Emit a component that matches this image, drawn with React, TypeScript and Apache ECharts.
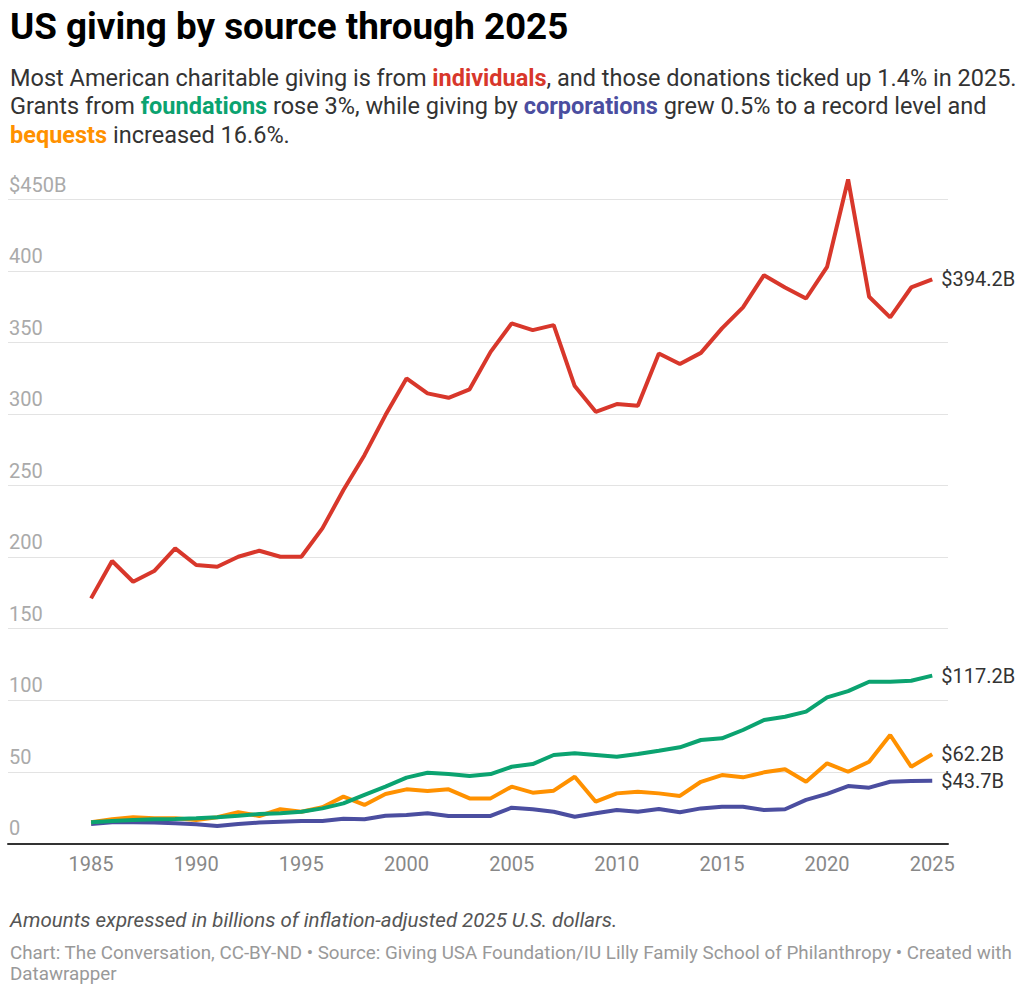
import React, { useEffect, useRef } from "react";
import * as echarts from "echarts";

const years: number[] = [];
for (let y = 1985; y <= 2025; y++) years.push(y);

const individuals = [
  171.2, 197.3, 182.8, 190.3, 206.1, 194.5, 193.3, 200.3, 204.5, 200.3,
  200.3, 220.1, 246.9, 271.3, 299.3, 324.9, 314.5, 311.4, 317.3, 343.5,
  363.4, 358.7, 362.2, 319.6, 301.6, 307.0, 305.8, 342.4, 335.0, 342.8,
  359.9, 374.6, 397.1, 388.5, 380.8, 402.9, 464.0, 382.0, 367.6, 388.5, 394.2,
];
const foundations = [
  14.7, 15.6, 16.3, 16.8, 16.9, 17.5, 18.2, 19.3, 20.5, 21.0,
  22.1, 24.4, 27.9, 33.8, 39.6, 45.9, 49.3, 48.4, 47.0, 48.4,
  53.5, 55.4, 61.7, 62.9, 61.7, 60.5, 62.4, 64.7, 67.1, 72.2,
  73.4, 79.2, 86.2, 88.5, 92.0, 102.0, 106.4, 112.9, 112.9, 113.6, 117.2,
];
const bequests = [
  14.7, 16.8, 18.2, 17.5, 17.5, 16.3, 18.2, 21.7, 19.1, 23.8,
  22.1, 25.2, 32.6, 26.8, 34.5, 37.7, 36.5, 37.7, 31.4, 31.4,
  39.6, 35.4, 36.8, 46.5, 29.1, 34.9, 36.1, 34.9, 33.1, 43.0,
  47.7, 46.1, 49.6, 51.7, 43.0, 55.9, 50.0, 57.0, 75.7, 53.5, 62.2,
];
const corporations = [
  13.5, 14.7, 14.7, 14.5, 14.0, 13.3, 12.1, 13.5, 14.5, 15.1,
  15.6, 15.6, 17.2, 16.8, 19.3, 19.8, 21.0, 19.1, 19.1, 19.1,
  24.9, 23.8, 22.1, 18.6, 21.0, 23.3, 22.1, 24.0, 21.7, 24.4,
  25.6, 25.6, 23.3, 23.8, 30.3, 34.5, 40.0, 38.9, 43.0, 43.5, 43.7,
];
const endLabels = ["$394.2B", "$117.2B", "$62.2B", "$43.7B"];
const xTickLabels = [1985, 1990, 1995, 2000, 2005, 2010, 2015, 2020, 2025];
const yTicks = [0, 50, 100, 150, 200, 250, 300, 350, 400, 450];

const RED = "#d8372b";
const GREEN = "#0ba370";
const ORANGE = "#ff9100";
const PURPLE = "#4b4ea0";
const FONT = "Roboto";

function makeSeries(name: string, values: number[], color: string, label: string, z: number) {
  return {
    name,
    type: "line",
    z,
    clip: false,
    symbol: "none",
    silent: true,
    lineStyle: { color, width: 4 },
    endLabel: {
      show: true,
      formatter: label,
      distance: 9,
      color: "#333",
      fontSize: 20,
      fontFamily: FONT,
    },
    data: values.map((v, i) => [years[i], v]),
  };
}

export default function App() {
  const ref = useRef<HTMLDivElement>(null);
  useEffect(() => {
    if (!ref.current) return;
    const chart = echarts.init(ref.current, null, { renderer: "svg" });
    const LH = 28.3;
    const base = { fontFamily: FONT, fontSize: 23.5, fill: "#333", lineHeight: LH };
    const bold = (c: string) => ({ ...base, fill: c, fontWeight: "bold" });
    const option: any = {
      animation: false,
      backgroundColor: "#fff",
      textStyle: { fontFamily: FONT },
      grid: { left: 8, right: 76, top: 199.5, bottom: 151.7, containLabel: false },
      xAxis: {
        type: "value",
        min: 1981.05,
        max: 2025.75,
        axisLine: { show: true, onZero: false, lineStyle: { color: "#333", width: 2 } },
        axisTick: { show: false },
        splitLine: { show: false },
        axisLabel: {
          customValues: xTickLabels,
          formatter: (v: number) => String(v),
          color: "#888",
          fontSize: 20,
          fontFamily: FONT,
          margin: 11,
        },
      },
      yAxis: {
        type: "value",
        min: 0,
        max: 450,
        interval: 50,
        axisLine: { show: false },
        axisTick: { show: false },
        splitLine: { show: true, lineStyle: { color: "#e3e3e3", width: 1 } },
        axisLabel: {
          inside: true,
          margin: 1,
          verticalAlign: "bottom",
          padding: [0, 0, 5, 0],
          color: "#aaa",
          fontSize: 20,
          fontFamily: FONT,
          formatter: (v: number) => (v === yTicks[yTicks.length - 1] ? "$" + v + "B" : String(v)),
        },
      },
      series: [
        makeSeries("Corporations", corporations, PURPLE, endLabels[3], 2),
        makeSeries("Bequests", bequests, ORANGE, endLabels[2], 3),
        makeSeries("Foundations", foundations, GREEN, endLabels[1], 4),
        makeSeries("Individuals", individuals, RED, endLabels[0], 5),
      ],
      graphic: [
        {
          type: "text",
          left: 10,
          top: 8,
          style: { text: "US giving by source through 2025", font: `bold 36.8px ${FONT}`, fill: "#000" },
        },
        {
          type: "text",
          left: 10,
          top: 66,
          style: {
            text:
              "{n|Most American charitable giving is from }{r|individuals}{n|, and those donations ticked up 1.4% in 2025.}\n" +
              "{n|Grants from }{g|foundations}{n| rose 3%, while giving by }{p|corporations}{n| grew 0.5% to a record level and}\n" +
              "{o|bequests}{n| increased 16.6%.}",
            rich: {
              n: base,
              r: bold(RED),
              g: bold(GREEN),
              p: bold(PURPLE),
              o: bold(ORANGE),
            },
          },
        },
        {
          type: "text",
          left: 10,
          top: 910,
          style: {
            text: "Amounts expressed in billions of inflation-adjusted 2025 U.S. dollars.",
            font: `italic 20.5px ${FONT}`,
            fill: "#555",
          },
        },
        {
          type: "text",
          left: 10,
          top: 942,
          style: {
            text:
              "Chart: The Conversation, CC-BY-ND • Source: Giving USA Foundation/IU Lilly Family School of Philanthropy • Created with\nDatawrapper",
            font: `18.8px ${FONT}`,
            fill: "#999",
            lineHeight: 21.5,
          },
        },
      ],
    };
    chart.setOption(option);
    return () => chart.dispose();
  }, []);
  return <div ref={ref} style={{ position: "absolute", left: 0, top: 0, width: 1024, height: 995 }} />;
}
